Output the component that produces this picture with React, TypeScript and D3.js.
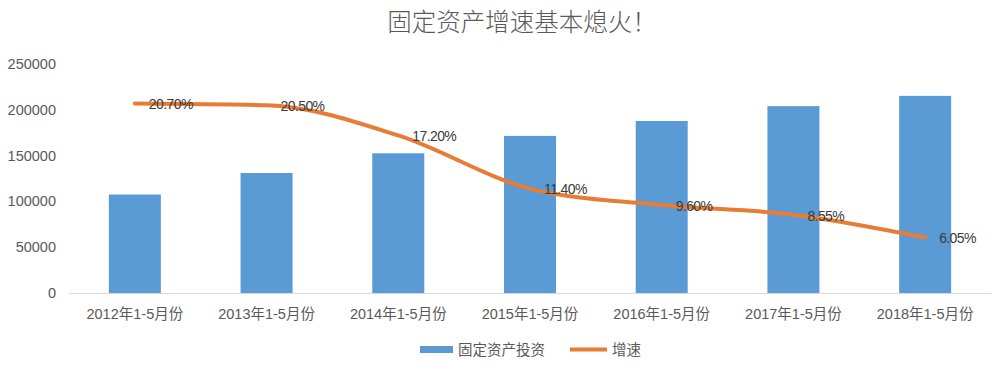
import React, { useEffect, useRef } from "react";
import * as d3 from "d3";

const categories = ["2012年1-5月份", "2013年1-5月份", "2014年1-5月份", "2015年1-5月份", "2016年1-5月份", "2017年1-5月份", "2018年1-5月份"];
const investment = [107500, 131000, 152500, 171500, 187800, 204000, 215200];
const growth = [20.7, 20.5, 17.2, 11.4, 9.6, 8.55, 6.05];
const growthLabels = ["20.70%", "20.50%", "17.20%", "11.40%", "9.60%", "8.55%", "6.05%"];
const yTicks = [0, 50000, 100000, 150000, 200000, 250000];
const title = "固定资产增速基本熄火！";
const seriesNames = ["固定资产投资", "增速"];

const W = 1000, H = 370;
const FONT = "'Liberation Sans', 'Noto Sans CJK SC', sans-serif";

export default function App() {
  const ref = useRef<SVGSVGElement>(null);
  useEffect(() => {
    const svg = d3.select(ref.current);
    svg.selectAll("*").remove();
    const left = 69, right = 991, top = 64, bottom = 293;
    const xc = d3.scaleBand().domain(categories).range([left, right]);
    const y = d3.scaleLinear().domain([0, 250000]).range([bottom, top]);
    const y2 = d3.scaleLinear().domain([0, 25]).range([bottom, top]);

    svg.append("text").attr("x", 522).attr("y", 31).attr("text-anchor", "middle")
      .attr("font-family", "'Noto Sans CJK SC', sans-serif").attr("font-size", 24.5).attr("font-weight", 300)
      .attr("fill", "#595959").text(title);

    // y axis labels
    svg.append("g").selectAll("text").data(yTicks).join("text")
      .attr("x", 56).attr("y", d => y(d)).attr("dy", "0.35em").attr("text-anchor", "end")
      .attr("font-family", FONT).attr("font-size", 14.5).attr("fill", "#595959").text(d => String(d));

    // bars
    svg.append("g").selectAll("rect").data(investment).join("rect")
      .attr("x", (_, i) => xc(categories[i])! + xc.bandwidth() / 2 - 26)
      .attr("width", 52)
      .attr("y", d => y(d)).attr("height", d => bottom - y(d)).attr("fill", "#5B9BD5");

    // baseline
    svg.append("line").attr("x1", left).attr("x2", right).attr("y1", bottom + 0.5).attr("y2", bottom + 0.5)
      .attr("stroke", "#D9D9D9").attr("stroke-width", 1);

    // x labels
    svg.append("g").selectAll("text").data(categories).join("text")
      .attr("x", d => xc(d)! + xc.bandwidth() / 2).attr("y", 319).attr("text-anchor", "middle")
      .attr("font-family", FONT).attr("font-size", 14.5).attr("fill", "#595959").text(d => d);

    // line
    const pts: [number, number][] = growth.map((g, i) => [xc(categories[i])! + xc.bandwidth() / 2, y2(g)]);
    const line = d3.line().curve(d3.curveMonotoneX);
    svg.append("path").attr("d", line(pts)!).attr("fill", "none").attr("stroke", "#E97C35")
      .attr("stroke-width", 4).attr("stroke-linecap", "round").attr("stroke-linejoin", "round");

    svg.append("g").selectAll("text").data(growthLabels).join("text")
      .attr("x", (_, i) => pts[i][0] + 14).attr("y", (_, i) => pts[i][1] + 1).attr("dy", "0.35em")
      .attr("font-family", FONT).attr("font-size", 14).attr("fill", "#3A3A3A").attr("letter-spacing", -0.6).text(d => d);

    // legend
    const lg = svg.append("g");
    lg.append("rect").attr("x", 420).attr("y", 346).attr("width", 33).attr("height", 7).attr("fill", "#5B9BD5");
    lg.append("text").attr("x", 458).attr("y", 350).attr("dy", "0.35em").attr("font-family", FONT)
      .attr("font-size", 14.5).attr("fill", "#595959").text(seriesNames[0]);
    lg.append("line").attr("x1", 570).attr("x2", 607).attr("y1", 349.5).attr("y2", 349.5)
      .attr("stroke", "#E97C35").attr("stroke-width", 4);
    lg.append("text").attr("x", 612).attr("y", 350).attr("dy", "0.35em").attr("font-family", FONT)
      .attr("font-size", 14.5).attr("fill", "#595959").text(seriesNames[1]);
  }, []);
  return (
    <svg ref={ref} width={W} height={H} style={{ position: "absolute", left: 0, top: 0, background: "#fff" }} />
  );
}
